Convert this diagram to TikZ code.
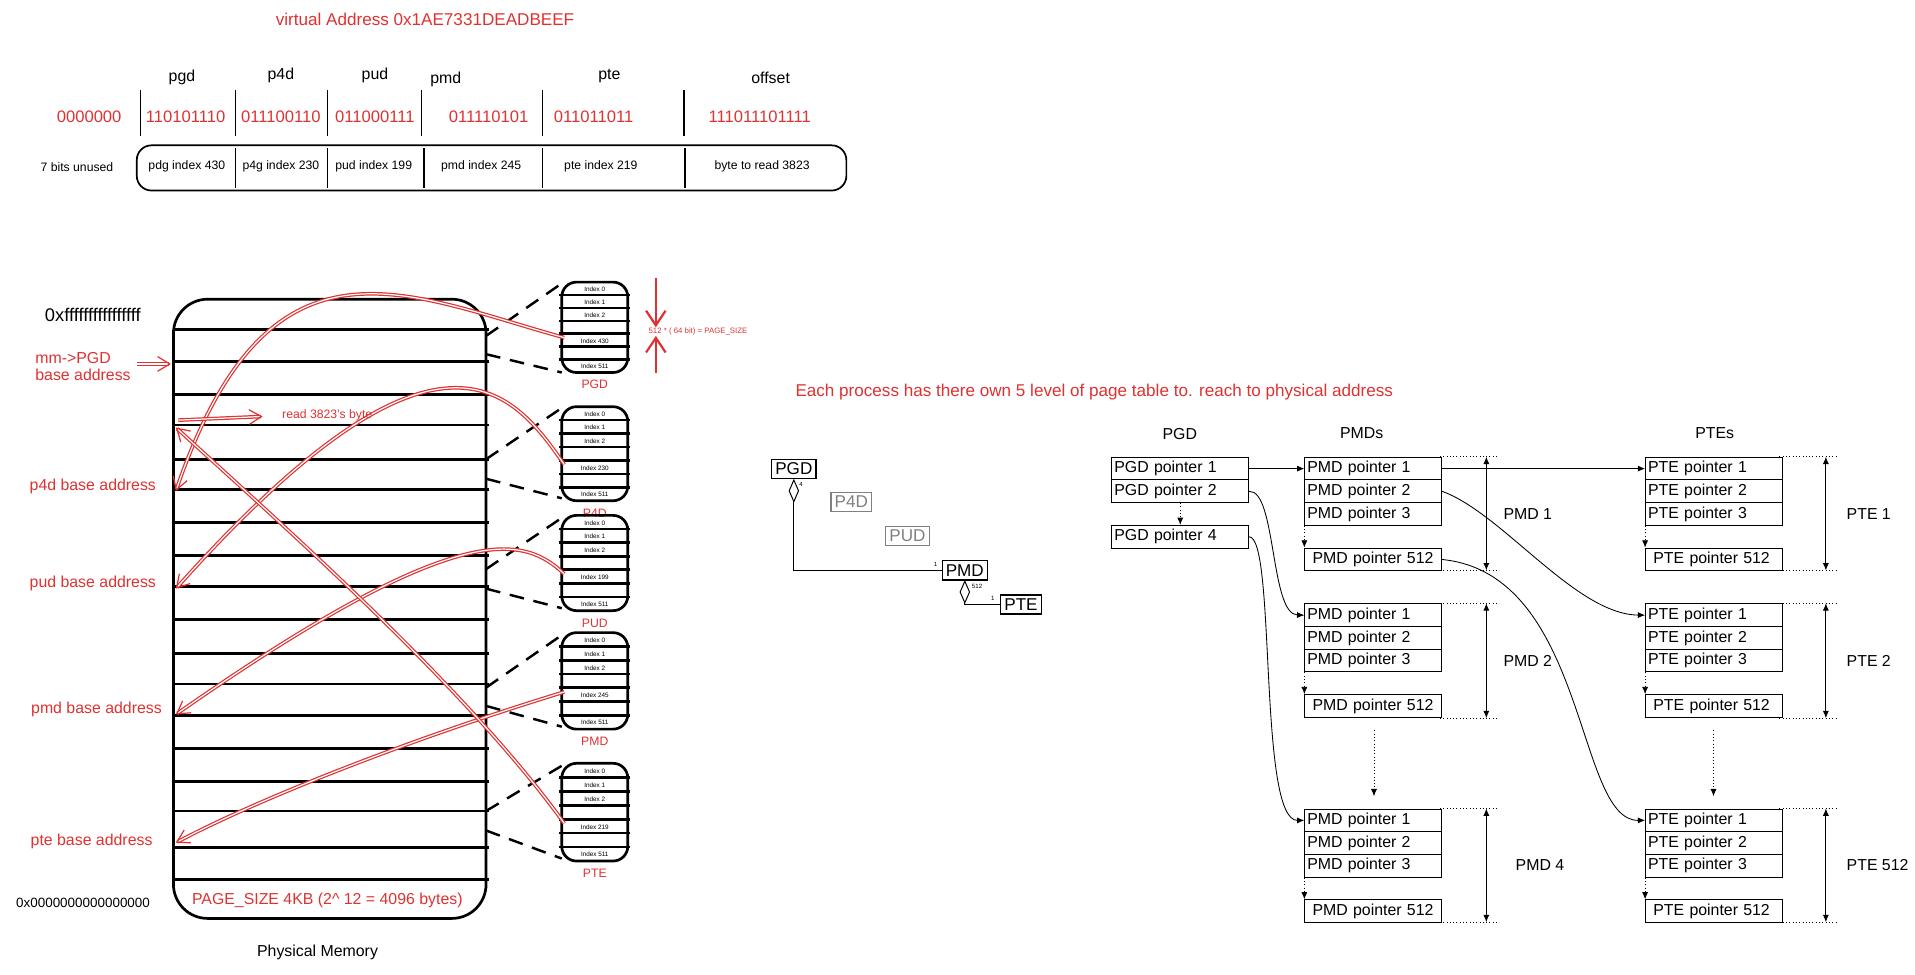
\documentclass[tikz,border=0pt]{standalone}
\usepackage{fontspec}
\setmainfont{Liberation Sans}
\usetikzlibrary{arrows.meta,shapes.geometric}
\definecolor{rd}{RGB}{224,49,49}
\begin{document}
\begin{tikzpicture}[x=0.5pt,y=-0.5pt,
 rt/.style={text=rd,font=\fontsize{6.5}{7}\selectfont},
 bt/.style={font=\fontsize{6.5}{7}\selectfont},
 sm/.style={font=\fontsize{5}{6}\selectfont},
 idx/.style={font=\fontsize{2.6}{3}\selectfont,inner sep=0},
 sep/.style={line width=0.6pt},
 thick1/.style={line width=1.1pt},
 ra/.style={draw=rd,line width=0.5pt,double=white,double distance=0.5pt,-{Straight Barb[length=5pt,width=6pt]}},
 cell/.style={draw,line width=0.4pt,minimum width=56pt,minimum height=9.3pt,inner sep=1pt,anchor=north west,text width=54pt,align=left,font=\fontsize{6.5}{7}\selectfont},
 arr/.style={-{Latex[length=3pt,width=2.5pt]},line width=0.35pt},
 dotar/.style={-{Latex[length=3pt,width=2.5pt]},line width=0.35pt,densely dotted},
 uml/.style={draw,line width=0.5pt,inner sep=1.5pt,font=\fontsize{7}{8}\selectfont},
]
\useasboundingbox (0,0) rectangle (1568,798);
% ---------- top ----------
\node[rt,font=\fontsize{7}{8}\selectfont] (va) at (348,16) {virtual Address 0x1AE7331DEADBEEF};
\foreach \t/\x/\y in {pgd/149/63,p4d/230/62,pud/307/62,pmd/365/65,pte/499/62,offset/631/64}
  \node[bt] (h\t) at (\x,\y) {\t};
\foreach \t/\x/\n in {0000000/73/a,110101110/152/b,011100110/230/c,011000111/307/d,011110101/400/e,011011011/486/f,111011101111/622/g}
  \node[rt,font=\fontsize{6.8}{8}\selectfont] (bin\n) at (\x,96) {\t};
\foreach \x in {115,193,268,345,444,560} \draw[sep] (\x,74) -- (\x,111);
\draw[line width=0.7pt,rounded corners=6pt] (112,119) rectangle (693,156);
\foreach \x in {193,268,347,444,561} \draw[sep] (\x,121) -- (\x,154);
\node[sm] (u) at (63,137) {7 bits unused};
\foreach \t/\x/\n in {pdg index 430/153/a,p4g index 230/230/b,pud index 199/306/c,pmd index 245/394/d,pte index 219/492/e,byte to read 3823/624/f}
  \node[sm] (ix\n) at (\x,136) {\t};
% ---------- physical memory ----------
\draw[thick1,rounded corners=14pt] (142,245) rectangle (398,752);
\foreach \y in {270,296,323,348,376,401,428,455,480,507,535,560,586,613,640,664,694,720}
  \draw[thick1] (142,\y) -- (400,\y);
\node[font=\fontsize{7.5}{8}\selectfont] (top) at (76,258) {0xffffffffffffffff};
\node[rt,align=left] (mm) at (68,300) {mm-{}>PGD\\base address};
\node[rt] (p4b) at (76,398) {p4d base address};
\node[rt] (pub) at (76,478) {pud base address};
\node[rt] (pmb) at (79,581) {pmd base address};
\node[rt] (pteb) at (75,689) {pte base address};
\node[font=\fontsize{5.5}{6}\selectfont] (bot) at (68,739) {0x0000000000000000};
\node[rt] (ps) at (268,737) {PAGE\_SIZE 4KB (2\^{} 12 = 4096 bytes)};
\node[bt] (pm) at (260,780) {Physical Memory};
\coordinate (mmE) at (140,298);
\draw[ra] (112,298) -- (mmE);
% ---------- small tables ----------
\newcommand{\ptab}[5]{% name, top, bottom, index, label
 \draw[thick1,rounded corners=6pt] (460,#2) rectangle (514,#3);
 \pgfmathsetmacro{\h}{(#3-#2)/7}
 \foreach \i in {1,...,6} \draw[thick1] (458,{#2+\i*\h}) -- (516,{#2+\i*\h});
 \node[idx] at (487,{#2+0.55*\h}) {Index 0};
 \node[idx] at (487,{#2+1.55*\h}) {Index 1};
 \node[idx] at (487,{#2+2.55*\h}) {Index 2};
 \node[idx] at (487,{#2+4.55*\h}) {Index #4};
 \node[idx] at (487,{#2+6.5*\h}) {Index 511};
 \node[rt,font=\fontsize{5}{6}\selectfont] (#1) at (487,{#3+10}) {#5};
 \coordinate (#1i) at (462,{#2+4.3*\h});
}
\ptab{tpgd}{231}{305}{430}{PGD}
\ptab{tp4d}{333}{410}{230}{P4D}
\ptab{tpud}{422}{500}{199}{PUD}
\ptab{tpmd}{518}{597}{245}{PMD}
\ptab{tpte}{625}{705}{219}{PTE}
\foreach \a/\b/\c/\d in {275/232/290/305, 376/334/392/408, 466/424/482/498, 563/520/578/595, 664/627/680/703}{
 \draw[line width=1pt,dash pattern=on 6pt off 4pt] (398,\a) -- (460,\b);
 \draw[line width=1pt,dash pattern=on 6pt off 4pt] (398,\c) -- (460,\d);}
\draw[draw=rd,line width=0.9pt,-{Straight Barb[length=6pt,width=8pt]}] (537,228) -- (537,268);
\draw[draw=rd,line width=0.9pt,-{Straight Barb[length=6pt,width=8pt]}] (537,305) -- (537,275);
\node[rt,font=\fontsize{3.2}{4}\selectfont,anchor=west] (sz) at (524,271) {512 * ( 64 bit) = PAGE\_SIZE};
% red arrows
\coordinate (a1) at (144,402);
\coordinate (a2) at (144,482);
\coordinate (a3) at (144,585);
\coordinate (a4) at (144,690);
\coordinate (a5) at (144,350);
\coordinate (rd1) at (215,341);
\draw[ra] (tpgdi) .. controls (330,240) and (220,180) .. (a1);
\draw[ra] (tp4di) .. controls (420,320) and (360,240) .. (a2);
\draw[ra] (tpudi) .. controls (430,440) and (380,420) .. (a3);
\draw[ra] (tpmdi) .. controls (320,610) and (200,660) .. (a4);
\draw[ra] (tptei) .. controls (380,560) and (220,420) .. (a5);
\draw[ra] (146,344) -- (rd1);
\node[rt,font=\fontsize{5}{6}\selectfont,anchor=west] (rdt) at (224,340) {read 3823's byte};
% ---------- middle ----------
\node[rt,font=\fontsize{7}{8}\selectfont] (each) at (896,321) {Each process has there own 5 level of page table to. reach to physical address};
\node[uml] (uPGD) at (650,384) {PGD};
\node[uml,draw=gray,text=gray] (uP4D) at (697,411) {P4D};
\node[uml,draw=gray,text=gray] (uPUD) at (743,439) {PUD};
\node[uml] (uPMD) at (790,467) {PMD};
\node[uml] (uPTE) at (836,495) {PTE};
\node[draw,diamond,minimum width=4pt,minimum height=9pt,inner sep=0,anchor=north,line width=0.4pt] (d1) at (uPGD.south) {};
\draw[line width=0.5pt] (d1.south) |- (uPMD.west);
\node[draw,diamond,minimum width=4pt,minimum height=9pt,inner sep=0,anchor=north,line width=0.4pt] (d2) at (uPMD.south) {};
\draw[line width=0.5pt] (d2.south) |- (uPTE.west);
\node[font=\fontsize{2.5}{3}\selectfont] (n4) at (656,397) {4};
\node[font=\fontsize{2.5}{3}\selectfont] (n1) at (766,462) {1};
\node[font=\fontsize{2.5}{3}\selectfont] (n512) at (800,480) {512};
\node[font=\fontsize{2.5}{3}\selectfont] (n1b) at (813,490) {1};
% ---------- right ----------
\node[bt] (hPGD) at (966,355) {PGD};
\node[bt] (hPMD) at (1115,355) {PMDs};
\node[bt] (hPTE) at (1404,355) {PTEs};
\node[cell] (g1) at (910,374) {PGD pointer 1};
\node[cell] (g2) at (910,392.6) {PGD pointer 2};
\node[cell] (g4) at (910,429.8) {PGD pointer 4};
\newcommand{\grp}[4]{% prefix, x, y, label
 \node[cell] (#1a) at (#2,#3) {#4 pointer 1};
 \node[cell] (#1b) at (#2,#3+18.6) {#4 pointer 2};
 \node[cell] (#1c) at (#2,#3+37.2) {#4 pointer 3};
 \node[cell] (#1d) at (#2,#3+74.4) {\ #4 pointer 512};
 \draw[dotar] (#1c.south west) -- (#1d.north west);
}
\grp{m1}{1068}{374}{PMD}
\grp{m2}{1068}{494}{PMD}
\grp{m4}{1068}{662}{PMD}
\grp{t1}{1347}{374}{PTE}
\grp{t2}{1347}{494}{PTE}
\grp{t4}{1347}{662}{PTE}
\newcommand{\brk}[5]{% x, top, bottom, label, labelx
 \draw[densely dotted,line width=0.35pt] (#1-38,#2) -- (#1+10,#2);
 \draw[densely dotted,line width=0.35pt] (#1-38,#3) -- (#1+10,#3);
 \draw[{Latex[length=3pt,width=2.5pt]}-{Latex[length=3pt,width=2.5pt]},line width=0.35pt] (#1,#2) -- (#1,#3);
 \node[bt,anchor=west] at (#5,{(#2+#3)/2}) {#4};
}
\brk{1217}{374}{467}{PMD 1}{1224}
\brk{1217}{494}{588}{PMD 2}{1224}
\brk{1217}{662}{755}{PMD 4}{1234}
\brk{1495}{374}{467}{PTE 1}{1505}
\brk{1495}{494}{588}{PTE 2}{1505}
\brk{1495}{662}{755}{PTE 512}{1505}
\draw[arr] (g1.east) -- (m1a.west);
\draw[arr] (m1a.east) -- (t1a.west);
\draw[arr] (g2.east) .. controls (1045,401) and (1040,503) .. (m2a.west);
\draw[arr] (g4.east) .. controls (1045,440) and (1030,672) .. (m4a.west);
\draw[arr] (m1b.east) .. controls (1230,420) and (1290,503) .. (t2a.west);
\draw[arr] (m1d.east) .. controls (1300,470) and (1290,672) .. (t4a.west);
\draw[dotar] (g2.south) -- (g4.north);
\draw[dotar] (1125,598) -- (1125,652);
\draw[dotar] (1403,598) -- (1403,652);
\end{tikzpicture}
\end{document}
